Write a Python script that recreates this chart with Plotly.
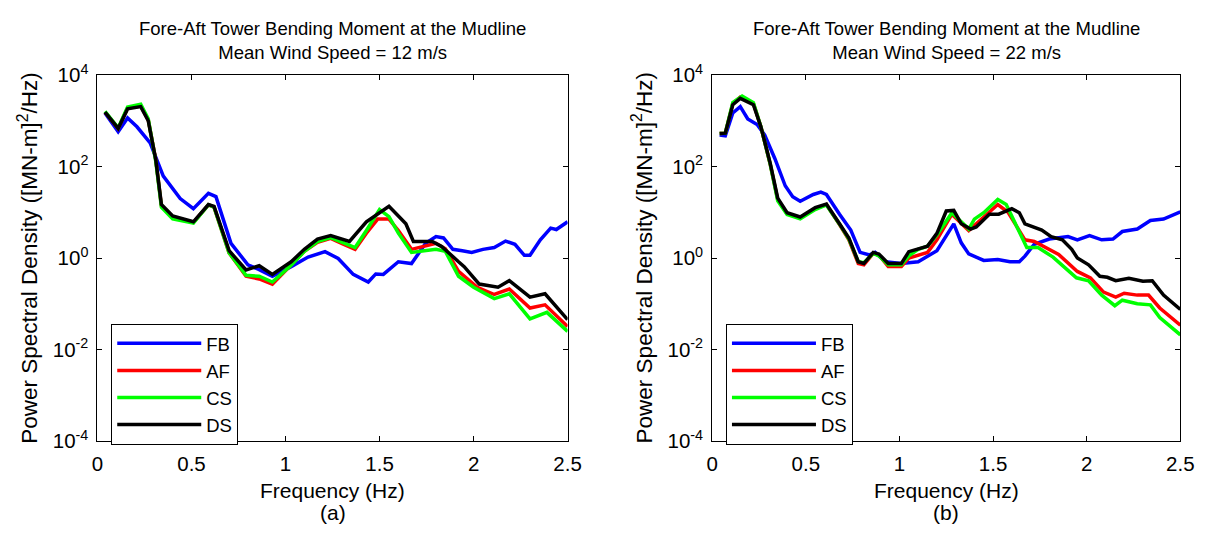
import plotly.graph_objects as go

# ---------------- data ----------------
# (a) Mean wind speed 12 m/s
a_fb_f = [0.04, 0.11, 0.16, 0.21, 0.28, 0.35, 0.44, 0.51, 0.59, 0.63, 0.71, 0.80, 0.86, 0.93, 1.03, 1.12,
          1.21, 1.28, 1.36, 1.44, 1.48, 1.52, 1.60, 1.67, 1.745, 1.80, 1.84, 1.89, 1.94, 1.99, 2.05, 2.11,
          2.17, 2.22, 2.27, 2.30, 2.355, 2.41, 2.44, 2.50]
a_fb_v = [1480, 575, 1150, 740, 330, 62, 20, 12, 26, 22, 2.1, 0.71, 0.56, 0.40, 0.65, 1.05,
          1.38, 0.98, 0.44, 0.30, 0.45, 0.44, 0.83, 0.76, 2.1, 2.95, 2.75, 1.55, 1.45, 1.33, 1.55, 1.7,
          2.35, 2.0, 1.15, 1.15, 2.5, 4.5, 4.2, 6.2]

a_af_f = [0.04, 0.11, 0.16, 0.23, 0.27, 0.31, 0.34, 0.40, 0.51, 0.59, 0.62, 0.70, 0.79, 0.86, 0.93, 1.03,
          1.10, 1.17, 1.24, 1.31, 1.37, 1.43, 1.49, 1.55, 1.60, 1.67, 1.80, 1.85, 1.92, 2.02, 2.11, 2.19,
          2.30, 2.38, 2.50]
a_af_v = [1550, 680, 1900, 2100, 1050, 141, 14, 7.8, 6.0, 14.5, 13, 1.3, 0.40, 0.35, 0.27, 0.7,
          1.4, 2.2, 2.7, 2.0, 1.55, 3.5, 7.1, 7.1, 4.0, 1.55, 2.1, 1.6, 0.51, 0.23, 0.16, 0.21,
          0.081, 0.095, 0.032]

a_cs_f = [0.04, 0.11, 0.16, 0.23, 0.27, 0.31, 0.34, 0.40, 0.51, 0.59, 0.62, 0.70, 0.79, 0.86, 0.93, 1.03,
          1.10, 1.17, 1.24, 1.31, 1.37, 1.43, 1.50, 1.55, 1.60, 1.67, 1.80, 1.85, 1.92, 2.00, 2.11, 2.19,
          2.30, 2.39, 2.50]
a_cs_v = [1600, 700, 2000, 2300, 1100, 130, 13, 7.2, 5.8, 14.5, 13, 1.3, 0.42, 0.40, 0.30, 0.7,
          1.4, 2.3, 2.8, 2.1, 1.7, 4.0, 11.5, 8.0, 3.5, 1.33, 1.55, 1.4, 0.40, 0.23, 0.13, 0.166,
          0.047, 0.065, 0.025]

a_ds_f = [0.04, 0.11, 0.16, 0.23, 0.27, 0.31, 0.34, 0.40, 0.51, 0.59, 0.62, 0.70, 0.79, 0.86, 0.93, 1.03,
          1.10, 1.17, 1.24, 1.34, 1.43, 1.55, 1.64, 1.68, 1.78, 1.83, 1.92, 1.95, 2.03, 2.13, 2.19, 2.30,
          2.38, 2.50]
a_ds_v = [1550, 680, 1820, 2040, 1000, 141, 14.8, 8.3, 6.2, 14.8, 13.5, 1.45, 0.55, 0.68, 0.44, 0.83,
          1.55, 2.6, 3.1, 2.3, 6.2, 13.5, 5.6, 2.3, 2.3, 1.8, 0.83, 0.65, 0.27, 0.23, 0.32, 0.14,
          0.166, 0.045]

# (b) Mean wind speed 22 m/s
b_fb_f = [0.04, 0.07, 0.11, 0.15, 0.19, 0.24, 0.28, 0.335, 0.39, 0.43, 0.47, 0.54, 0.58, 0.61, 0.68, 0.74,
          0.79, 0.84, 0.87, 0.925, 1.01, 1.10, 1.20, 1.25, 1.29, 1.33, 1.37, 1.45, 1.525, 1.59, 1.64, 1.67,
          1.72, 1.80, 1.90, 1.95, 2.015, 2.08, 2.14, 2.19, 2.27, 2.34, 2.41, 2.50]
b_fb_v = [490, 470, 1480, 2040, 1100, 830, 490, 148, 38, 22, 17.4, 24.5, 27.5, 24.5, 9.1, 4.1,
          1.33, 1.17, 1.33, 0.83, 0.76, 0.83, 1.45, 2.95, 5.6, 2.15, 1.23, 0.89, 0.93, 0.83, 0.83, 1.1,
          2.0, 2.6, 2.95, 2.5, 3.1, 2.5, 2.6, 3.8, 4.3, 6.6, 7.1, 10.2]

b_af_f = [0.04, 0.07, 0.11, 0.15, 0.22, 0.26, 0.31, 0.35, 0.40, 0.47, 0.55, 0.61, 0.68, 0.73, 0.78, 0.81,
          0.86, 0.89, 0.94, 1.01, 1.05, 1.15, 1.20, 1.28, 1.37, 1.446, 1.525, 1.58, 1.67, 1.72, 1.80, 1.85,
          1.95, 2.02, 2.09, 2.155, 2.20, 2.27, 2.33, 2.39, 2.50]
b_af_v = [525, 537, 2400, 3300, 2400, 740, 112, 19, 9.3, 7.6, 12, 14.8, 5.4, 2.5, 0.76, 0.71,
          1.26, 1.17, 0.65, 0.65, 1.0, 1.33, 2.5, 9.1, 4.0, 7.8, 14.8, 10, 2.5, 2.3, 1.55, 1.2,
          0.51, 0.37, 0.18, 0.14, 0.17, 0.155, 0.155, 0.081, 0.034]

b_cs_f = [0.04, 0.07, 0.11, 0.16, 0.22, 0.26, 0.31, 0.35, 0.40, 0.47, 0.55, 0.61, 0.68, 0.73, 0.78, 0.81,
          0.86, 0.89, 0.94, 1.01, 1.05, 1.10, 1.15, 1.20, 1.28, 1.37, 1.40, 1.45, 1.525, 1.57, 1.68, 1.74,
          1.82, 1.89, 1.945, 2.01, 2.08, 2.15, 2.19, 2.27, 2.34, 2.39, 2.50]
b_cs_v = [525, 537, 2500, 3470, 2500, 740, 112, 17.8, 8.9, 7.2, 11.5, 14.5, 5.5, 2.6, 0.83, 0.79,
          1.26, 1.12, 0.71, 0.71, 1.12, 1.55, 1.82, 3.2, 9.8, 4.3, 7.1, 9.8, 19, 14.8, 1.7, 1.7,
          1.05, 0.60, 0.37, 0.32, 0.155, 0.091, 0.12, 0.10, 0.095, 0.05, 0.021]

b_ds_f = [0.04, 0.07, 0.11, 0.15, 0.22, 0.26, 0.31, 0.35, 0.40, 0.47, 0.55, 0.61, 0.68, 0.73, 0.78, 0.81,
          0.86, 0.89, 0.94, 1.01, 1.05, 1.15, 1.20, 1.25, 1.29, 1.33, 1.38, 1.41, 1.48, 1.53, 1.60, 1.64,
          1.67, 1.76, 1.81, 1.87, 1.92, 1.95, 2.01, 2.07, 2.11, 2.155, 2.225, 2.30, 2.35, 2.41, 2.50]
b_ds_v = [525, 537, 2240, 3090, 2240, 740, 117, 20.4, 9.8, 7.9, 12.6, 15.1, 5.6, 2.75, 0.83, 0.76,
          1.33, 1.23, 0.76, 0.76, 1.38, 1.82, 3.47, 10.7, 11, 5.6, 4.3, 4.8, 9.1, 9.1, 12, 9.8,
          5.6, 4.1, 2.95, 2.5, 1.55, 1.0, 0.71, 0.40, 0.38, 0.32, 0.36, 0.31, 0.32, 0.155, 0.075]

series_names = ["FB", "AF", "CS", "DS"]
series_colors = ["#0000FF", "#FF0000", "#00FF00", "#000000"]
panel_a = [(a_fb_f, a_fb_v), (a_af_f, a_af_v), (a_cs_f, a_cs_v), (a_ds_f, a_ds_v)]
panel_b = [(b_fb_f, b_fb_v), (b_af_f, b_af_v), (b_cs_f, b_cs_v), (b_ds_f, b_ds_v)]

titles = ["Fore-Aft Tower Bending Moment at the Mudline<br>Mean Wind Speed = 12 m/s",
          "Fore-Aft Tower Bending Moment at the Mudline<br>Mean Wind Speed = 22 m/s"]
panel_labels = ["(a)", "(b)"]
x_tick_vals = [0, 0.5, 1, 1.5, 2, 2.5]
x_tick_text = ["0", "0.5", "1", "1.5", "2", "2.5"]
y_tick_vals = [1e-4, 1e-2, 1e0, 1e2, 1e4]
y_tick_text = ["10<sup>-4</sup>", "10<sup>-2</sup>", "10<sup>0</sup>", "10<sup>2</sup>", "10<sup>4</sup>"]

# ---------------- figure ----------------
W, H = 1216, 536
FONT = "Liberation Sans, Arial, sans-serif"

fig = go.Figure()

# pixel layout of the two axes boxes
boxes = [(93, 571), (718, 1194)]
y_top, y_bot = 64, 448


def px_x(p):
    return p / W


def px_y(p):
    return 1 - p / H


for i, (panel, legend_id) in enumerate(zip([panel_a, panel_b], ["legend", "legend2"])):
    xa = "x" if i == 0 else "x2"
    ya = "y" if i == 0 else "y2"
    for (f, v), name, col in zip(panel, series_names, series_colors):
        fig.add_trace(go.Scatter(
            x=f, y=v, mode="lines", name=name,
            line=dict(color=col, width=3.5),
            xaxis=xa, yaxis=ya, legend=legend_id, showlegend=True,
        ))

axis_common = dict(
    showgrid=False, zeroline=False, showline=True, linecolor="black", linewidth=1,
    mirror="ticks", ticks="inside", ticklen=5, tickwidth=1, tickcolor="black",
    tickfont=dict(family=FONT, size=20.5, color="black"),
)

for i, (x0, x1) in enumerate(boxes):
    suffix = "" if i == 0 else "2"
    fig.update_layout(**{
        "xaxis" + suffix: dict(
            domain=[px_x(x0), px_x(x1)], range=[0, 2.5],
            tickvals=x_tick_vals, ticktext=x_tick_text, ticklabelstandoff=4,
            anchor="y" + suffix, **axis_common),
        "yaxis" + suffix: dict(
            domain=[px_y(y_bot), px_y(y_top)], type="log", range=[-4, 4],
            tickvals=y_tick_vals, ticktext=y_tick_text, ticklabelstandoff=4,
            anchor="x" + suffix, **axis_common),
    })
    cx = px_x((x0 + x1) / 2)
    # titles
    fig.add_annotation(text=titles[i], x=cx, y=px_y(28), xref="paper", yref="paper",
                       showarrow=False, xanchor="center", yanchor="middle",
                       font=dict(family=FONT, size=18.5, color="black"))
    # x label and panel label
    fig.add_annotation(text="Frequency (Hz)", x=cx, y=px_y(500), xref="paper", yref="paper",
                       showarrow=False, xanchor="center", yanchor="middle",
                       font=dict(family=FONT, size=21, color="black"))
    fig.add_annotation(text=panel_labels[i], x=cx, y=px_y(523), xref="paper", yref="paper",
                       showarrow=False, xanchor="center", yanchor="middle",
                       font=dict(family=FONT, size=21, color="black"))
    # y label
    fig.add_annotation(text="Power Spectral Density ([MN-m]<sup>2</sup>/Hz)",
                       x=px_x(x0 - 71), y=px_y((y_top + y_bot) / 2), xref="paper", yref="paper",
                       showarrow=False, textangle=-90, xanchor="center", yanchor="middle",
                       font=dict(family=FONT, size=22.5, color="black"))

legend_common = dict(
    xanchor="left", yanchor="top", bgcolor="white", bordercolor="black", borderwidth=1,
    font=dict(family=FONT, size=18.5, color="black"), itemwidth=84, tracegroupgap=0,
)
fig.update_layout(
    width=W, height=H, margin=dict(l=0, r=0, t=0, b=0),
    paper_bgcolor="white", plot_bgcolor="white",
    legend=dict(x=px_x(107), y=px_y(325), **legend_common),
    legend2=dict(x=px_x(732), y=px_y(325), **legend_common),
)

fig.write_html("out.html")
